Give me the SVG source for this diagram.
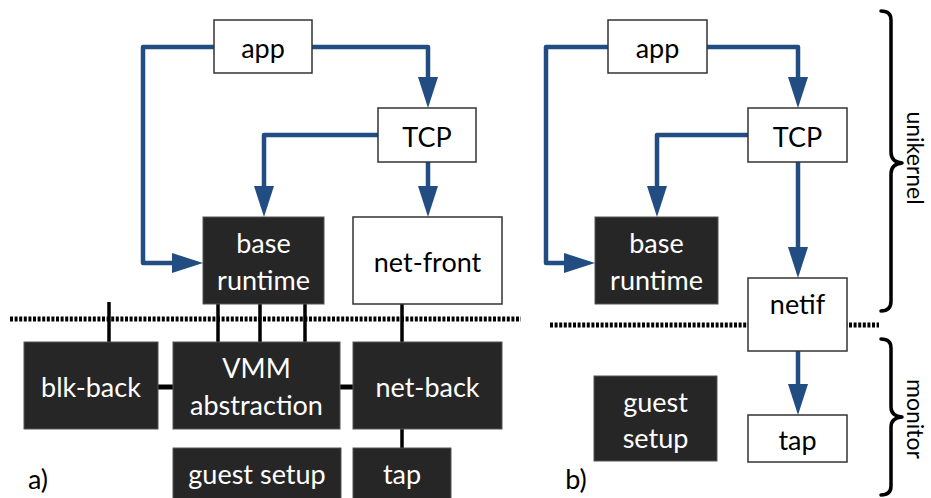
<svg xmlns="http://www.w3.org/2000/svg" width="931" height="498" viewBox="0 0 931 498">
<style>
text{font-family:Lato,"Noto Sans","Liberation Sans",sans-serif;font-size:27px;text-anchor:middle}
.side{font-size:23px}
.w rect{fill:#fff;stroke:#333;stroke-width:1.5}
.d rect{fill:#262626;stroke:#555;stroke-width:1}
.w text{fill:#000}
.d text{fill:#fff}
.flow{fill:none;stroke:#214d82;stroke-width:4.5;stroke-linejoin:round}
.blk{fill:none;stroke:#000;stroke-width:3.5}
.blkh{fill:none;stroke:#000;stroke-width:5}
.dot{fill:none;stroke:#000;stroke-width:5;stroke-dasharray:3 1.6}
.brace{fill:none;stroke:#000;stroke-width:3.5;stroke-linejoin:round;stroke-linecap:round}
</style>
<defs>
<marker id="ah" markerUnits="userSpaceOnUse" markerWidth="32" markerHeight="22" refX="11" refY="10" orient="auto" viewBox="0 0 32 22">
<path d="M0,0 L31,10 L0,20 Z" fill="#214d82"/>
</marker>
</defs>

<g id="separators">
<line class="dot" x1="10" y1="319" x2="521" y2="319"/>
<line class="dot" x1="550" y1="325" x2="879" y2="325"/>
</g>

<g id="connectors">
<path class="flow" d="M214,47 H143 V263 H183" marker-end="url(#ah)"/>
<path class="flow" d="M312,47 H428 V88" marker-end="url(#ah)"/>
<path class="flow" d="M378,135 H264 V197" marker-end="url(#ah)"/>
<path class="flow" d="M428,162 V197" marker-end="url(#ah)"/>
<line class="blk" x1="109" y1="302" x2="109" y2="342"/>
<line class="blk" x1="218" y1="304" x2="218" y2="342"/>
<line class="blk" x1="260" y1="304" x2="260" y2="342"/>
<line class="blk" x1="305" y1="304" x2="305" y2="342"/>
<line class="blk" x1="402" y1="304" x2="402" y2="342"/>
<line class="blkh" x1="158" y1="387" x2="173" y2="387"/>
<line class="blkh" x1="340" y1="387" x2="353" y2="387"/>
<line class="blk" x1="402" y1="429" x2="402" y2="448"/>
<path class="flow" d="M608,47 H546 V263 H575" marker-end="url(#ah)"/>
<path class="flow" d="M707,47 H798 V88" marker-end="url(#ah)"/>
<path class="flow" d="M748,135 H657 V197" marker-end="url(#ah)"/>
<path class="flow" d="M798,162 V258" marker-end="url(#ah)"/>
<path class="flow" d="M798,351 V395" marker-end="url(#ah)"/>
</g>

<g id="a-app" class="w"><rect x="214" y="20" width="98" height="53"/><text x="263" y="58">app</text></g>
<g id="a-tcp" class="w"><rect x="378" y="108" width="98" height="54"/><text x="427" y="147">TCP</text></g>
<g id="a-base-runtime" class="d"><rect x="203" y="217" width="121" height="87"/><text x="263.5" y="253">base</text><text x="263.5" y="290">runtime</text></g>
<g id="a-net-front" class="w"><rect x="353" y="217" width="149" height="87"/><text x="427.5" y="272">net-front</text></g>
<g id="a-blk-back" class="d"><rect x="24" y="342" width="134" height="87"/><text x="91" y="397">blk-back</text></g>
<g id="a-vmm" class="d"><rect x="173" y="342" width="167" height="87"/><text x="256.5" y="378">VMM</text><text x="256.5" y="415">abstraction</text></g>
<g id="a-net-back" class="d"><rect x="353" y="342" width="149" height="87"/><text x="427.5" y="397">net-back</text></g>
<g id="a-guest-setup" class="d"><rect x="173" y="448" width="168" height="55"/><text x="257" y="484">guest setup</text></g>
<g id="a-tap" class="d"><rect x="353" y="448" width="98" height="55"/><text x="402" y="484">tap</text></g>
<text x="38" y="489">a)</text>

<g id="b-app" class="w"><rect x="608" y="20" width="99" height="53"/><text x="657.5" y="58">app</text></g>
<g id="b-tcp" class="w"><rect x="748" y="108" width="99" height="54"/><text x="797.5" y="147">TCP</text></g>
<g id="b-base-runtime" class="d"><rect x="595" y="217" width="123" height="87"/><text x="656.5" y="253">base</text><text x="656.5" y="290">runtime</text></g>
<g id="b-netif" class="w"><rect x="748" y="278" width="99" height="73"/><text x="797.5" y="314">netif</text></g>
<g id="b-guest-setup" class="d"><rect x="594" y="376" width="123" height="85"/><text x="655.5" y="412">guest</text><text x="655.5" y="448">setup</text></g>
<g id="b-tap" class="w"><rect x="748" y="415" width="99" height="47"/><text x="797.5" y="450">tap</text></g>
<text x="576" y="489">b)</text>

<g id="brace-unikernel">
<path class="brace" d="M881,11 Q891,11 891,20 V152 Q891,162 902,163 Q891,164 891,174 V301 Q891,311 881,311"/>
<text class="side" transform="translate(907,158) rotate(90)">unikernel</text>
</g>
<g id="brace-monitor">
<path class="brace" d="M881,339 Q891,339 891,348 V407 Q891,416 902,417 Q891,418 891,427 V486 Q891,495 881,495"/>
<text class="side" transform="translate(907,419) rotate(90)">monitor</text>
</g>
</svg>
